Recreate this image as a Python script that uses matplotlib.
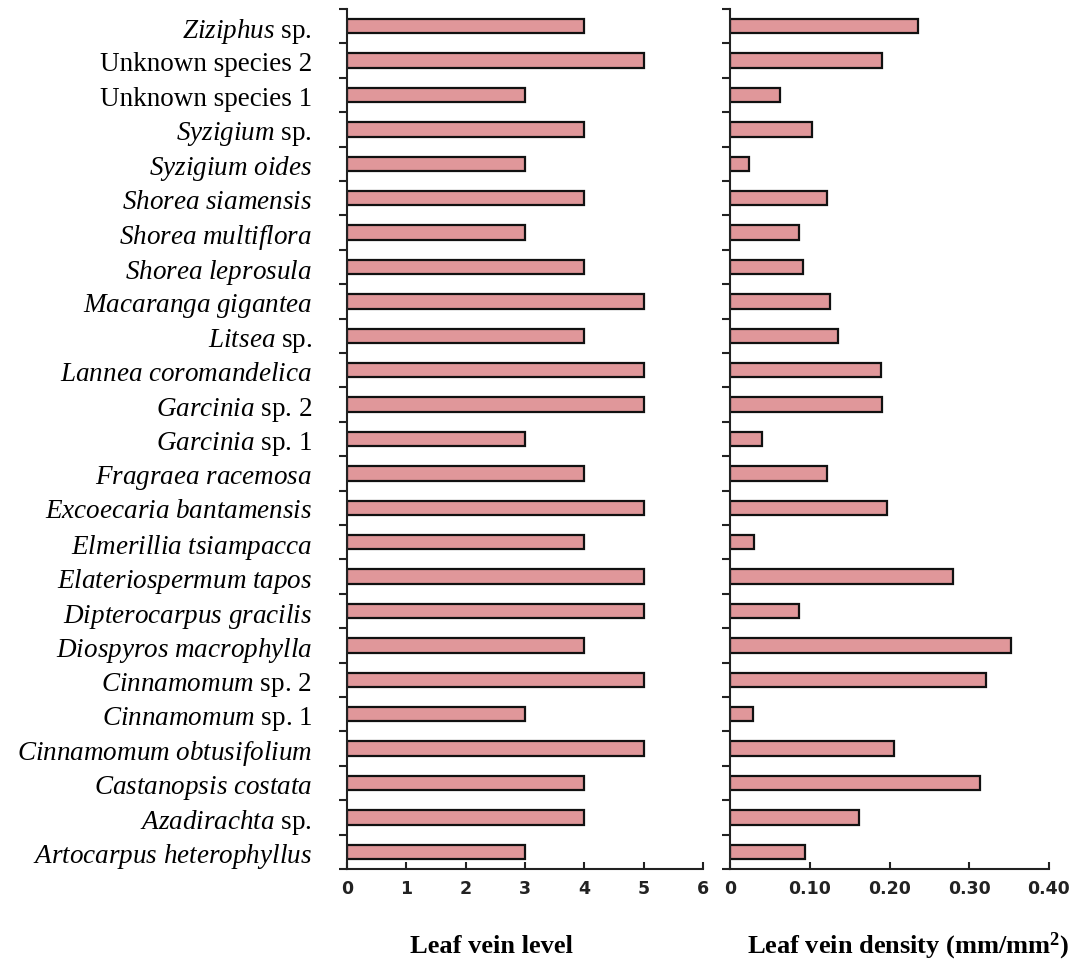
import matplotlib.pyplot as plt
from matplotlib.ticker import FixedLocator

# species, top to bottom as in the figure
species = ['Ziziphus sp.', 'Unknown species 2', 'Unknown species 1', 'Syzigium sp.',
           'Syzigium oides', 'Shorea siamensis', 'Shorea multiflora', 'Shorea leprosula',
           'Macaranga gigantea', 'Litsea sp.', 'Lannea coromandelica', 'Garcinia sp. 2',
           'Garcinia sp. 1', 'Fragraea racemosa', 'Excoecaria bantamensis',
           'Elmerillia tsiampacca', 'Elateriospermum tapos', 'Dipterocarpus gracilis',
           'Diospyros macrophylla', 'Cinnamomum sp. 2', 'Cinnamomum sp. 1',
           'Cinnamomum obtusifolium', 'Castanopsis costata', 'Azadirachta sp.',
           'Artocarpus heterophyllus']
vein_level = [4, 5, 3, 4, 3, 4, 3, 4, 5, 4, 5, 5, 3, 4, 5, 4, 5, 5, 4, 5, 3, 5, 4, 4, 3]
vein_density = [0.236, 0.191, 0.062, 0.103, 0.023, 0.122, 0.086, 0.091, 0.125, 0.135,
                0.189, 0.191, 0.040, 0.122, 0.197, 0.030, 0.279, 0.086, 0.352, 0.321,
                0.028, 0.205, 0.314, 0.161, 0.094]
level_ticks = [0, 1, 2, 3, 4, 5, 6]
density_ticks = [0, 0.10, 0.20, 0.30, 0.40]
density_ticklabels = ['0', '0.10', '0.20', '0.30', '0.40']

plt.rcParams['mathtext.fontset'] = 'custom'
plt.rcParams['mathtext.rm'] = 'Liberation Serif'
plt.rcParams['mathtext.it'] = 'Liberation Serif:italic'
plt.rcParams['mathtext.bf'] = 'Liberation Serif:bold'


def make_label(name):
    if name.startswith('Unknown'):
        return name
    words = name.split(' ')
    ital = [w for w in words if w != 'sp.' and not w.isdigit()]
    rest = words[len(ital):]
    lab = r'$\mathit{' + r'\ '.join(ital) + '}$'
    if rest:
        lab += ' ' + ' '.join(rest)
    return lab


labels = [make_label(s) for s in species]
n = len(species)
ypos = list(range(n - 1, -1, -1))

bar_color = '#e0979a'
fig = plt.figure(figsize=(10.77, 9.62), dpi=100)
ax1 = fig.add_axes([0.322, 0.0956, 0.331, 0.894])
ax2 = fig.add_axes([0.678, 0.0956, 0.296, 0.894])

ax1.barh(ypos, vein_level, height=0.42, color=bar_color, edgecolor='#111111', linewidth=1.6)
ax2.barh(ypos, vein_density, height=0.42, color=bar_color, edgecolor='#111111', linewidth=1.6)

for ax in (ax1, ax2):
    ax.set_ylim(-0.5, n - 0.5)
    ax.spines['top'].set_visible(False)
    ax.spines['right'].set_visible(False)
    ax.spines['left'].set_linewidth(1.5)
    ax.spines['bottom'].set_linewidth(1.5)
    ax.spines['left'].set_color('#222222')
    ax.spines['bottom'].set_color('#222222')
    ax.yaxis.set_major_locator(FixedLocator([i - 0.5 for i in range(n + 1)]))
    ax.set_yticklabels([])
    ax.tick_params(axis='y', direction='out', length=6, width=1.5, color='#222222')
    ax.tick_params(axis='x', direction='in', length=5, width=1.5, color='#222222',
                   labelsize=12.5, pad=7, labelcolor='#222222')

# species names as minor ticks at bar centres
ax1.set_yticks(ypos, minor=True)
ax1.set_yticklabels(labels, minor=True, fontsize=19.5, family='Liberation Serif')
ax1.tick_params(axis='y', which='minor', length=0, pad=25)

ax1.set_xlim(0, 6)
ax1.set_xticks(level_ticks)
ax2.set_xlim(0, 0.40)
ax2.set_xticks(density_ticks)
ax2.set_xticklabels(density_ticklabels)
for ax in (ax1, ax2):
    for t in ax.get_xticklabels():
        t.set_fontweight('bold')

fig.text(0.456, 0.0166, 'Leaf vein level', ha='center', va='center', fontsize=19,
         family='Liberation Serif', fontweight='bold')
fig.text(0.843, 0.0166, r'Leaf vein density (mm/mm$^\mathbf{2}$)', ha='center', va='center',
         fontsize=19, family='Liberation Serif', fontweight='bold')

fig.savefig('out.png', dpi=100)
